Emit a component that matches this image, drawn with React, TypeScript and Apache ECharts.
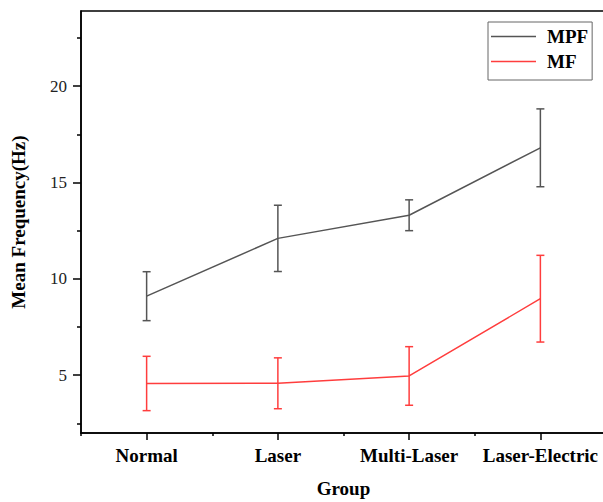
import React, { useEffect, useRef } from "react";
import * as echarts from "echarts";

const groups = ["Normal", "Laser", "Multi-Laser", "Laser-Electric"];
const mpfMean = [9.1, 12.1, 13.3, 16.8];
const mpfSd = [1.27, 1.72, 0.8, 2.02];
const mfMean = [4.57, 4.58, 4.96, 8.97];
const mfSd = [1.41, 1.32, 1.52, 2.25];
const yMajorTicks = [5, 10, 15, 20];
const yMinorTicks = [2.5, 7.5, 12.5, 17.5, 22.5];

const MPF_COLOR = "#555555";
const MF_COLOR = "#ff3d3d";
const FONT = "'Liberation Serif', 'Times New Roman', serif";

function errorSeries(name: string, means: number[], sds: number[], color: string) {
  const data = means.map((m, i) => [i, m - sds[i], m + sds[i]]);
  return {
    type: "custom",
    name: name + "-err",
    xAxisIndex: 0,
    yAxisIndex: 0,
    clip: false,
    silent: true,
    data,
    encode: { x: 0, y: [1, 2] },
    renderItem: (params: any, api: any) => {
      const x = api.value(0);
      const lo = api.coord([x, api.value(1)]);
      const hi = api.coord([x, api.value(2)]);
      const hw = 4;
      const style = { stroke: color, lineWidth: 1.5, fill: "none" };
      return {
        type: "group",
        children: [
          { type: "line", shape: { x1: lo[0], y1: lo[1], x2: hi[0], y2: hi[1] }, style },
          { type: "line", shape: { x1: lo[0] - hw, y1: lo[1], x2: lo[0] + hw, y2: lo[1] }, style },
          { type: "line", shape: { x1: hi[0] - hw, y1: hi[1], x2: hi[0] + hw, y2: hi[1] }, style },
        ],
      };
    },
  };
}

export default function App() {
  const ref = useRef<HTMLDivElement>(null);
  useEffect(() => {
    if (!ref.current) return;
    const chart = echarts.init(ref.current, undefined, { renderer: "svg" });
    const axisLine = { show: true, lineStyle: { color: "#000", width: 1.5 } };
    chart.setOption({
      animation: false,
      backgroundColor: "#fff",
      grid: {
        left: 81,
        top: 11,
        width: 525,
        bottom: 69,
        outerBoundsMode: "none",
        show: true,
        borderColor: "#000",
        borderWidth: 1.5,
        backgroundColor: "transparent",
      },
      legend: {
        orient: "vertical",
        left: 488,
        top: 22,
        padding: [5, 4, 9, 3],
        itemGap: 6,
        itemWidth: 45,
        itemHeight: 1.5,
        borderColor: "#666",
        borderWidth: 1,
        data: [
          { name: "MPF", icon: "rect" },
          { name: "MF", icon: "rect" },
        ],
        textStyle: {
          fontFamily: FONT,
          fontWeight: "bold",
          fontSize: 19,
          color: "#000",
          lineHeight: 19,
          padding: [0, 0, 0, 6],
        },
      },
      xAxis: [
        {
          type: "category",
          data: groups,
          position: "bottom",
          boundaryGap: true,
          axisLine,
          axisTick: { show: true, alignWithLabel: true, length: 7, lineStyle: { color: "#000", width: 1.5 } },
          axisLabel: { interval: 0, fontFamily: FONT, fontWeight: "bold", fontSize: 19, color: "#000", margin: 13 },
          splitLine: { show: false },
          name: "Group",
          nameLocation: "middle",
          nameGap: 46,
          nameTextStyle: { fontFamily: FONT, fontWeight: "bold", fontSize: 19, color: "#000" },
        },
        {
          type: "category",
          data: groups,
          position: "bottom",
          boundaryGap: true,
          axisLine: { show: false },
          axisTick: { show: true, interval: 0, length: 3, lineStyle: { color: "#000", width: 1.5 } },
          axisLabel: { show: false },
          splitLine: { show: false },
        },
      ],
      yAxis: [
        {
          type: "value",
          position: "left",
          min: 2,
          max: 23.9,
          axisLine,
          axisTick: { show: true, length: 8, customValues: yMajorTicks, lineStyle: { color: "#000", width: 1.5 } },
          axisLabel: { customValues: yMajorTicks, fontFamily: FONT, fontSize: 17, color: "#222", margin: 14 },
          splitLine: { show: false },
          name: "Mean Frequency(Hz)",
          nameLocation: "middle",
          nameGap: 53,
          nameTextStyle: { fontFamily: FONT, fontWeight: "bold", fontSize: 19, color: "#000" },
        },
        {
          type: "value",
          position: "left",
          min: 2,
          max: 23.9,
          axisLine: { show: false },
          axisTick: { show: true, length: 4, customValues: yMinorTicks, lineStyle: { color: "#000", width: 1.5 } },
          axisLabel: { show: false },
          splitLine: { show: false },
        },
      ],
      series: [
        {
          type: "line",
          name: "MPF",
          data: mpfMean,
          symbol: "none",
          lineStyle: { color: MPF_COLOR, width: 1.5 },
          itemStyle: { color: MPF_COLOR },
        },
        {
          type: "line",
          name: "MF",
          data: mfMean,
          symbol: "none",
          lineStyle: { color: MF_COLOR, width: 1.5 },
          itemStyle: { color: MF_COLOR },
        },
        errorSeries("MPF", mpfMean, mpfSd, MPF_COLOR),
        errorSeries("MF", mfMean, mfSd, MF_COLOR),
      ],
    });
    return () => chart.dispose();
  }, []);
  return (
    <div
      ref={ref}
      style={{ position: "fixed", left: 0, top: 0, width: 603, height: 502, background: "#fff" }}
    />
  );
}
